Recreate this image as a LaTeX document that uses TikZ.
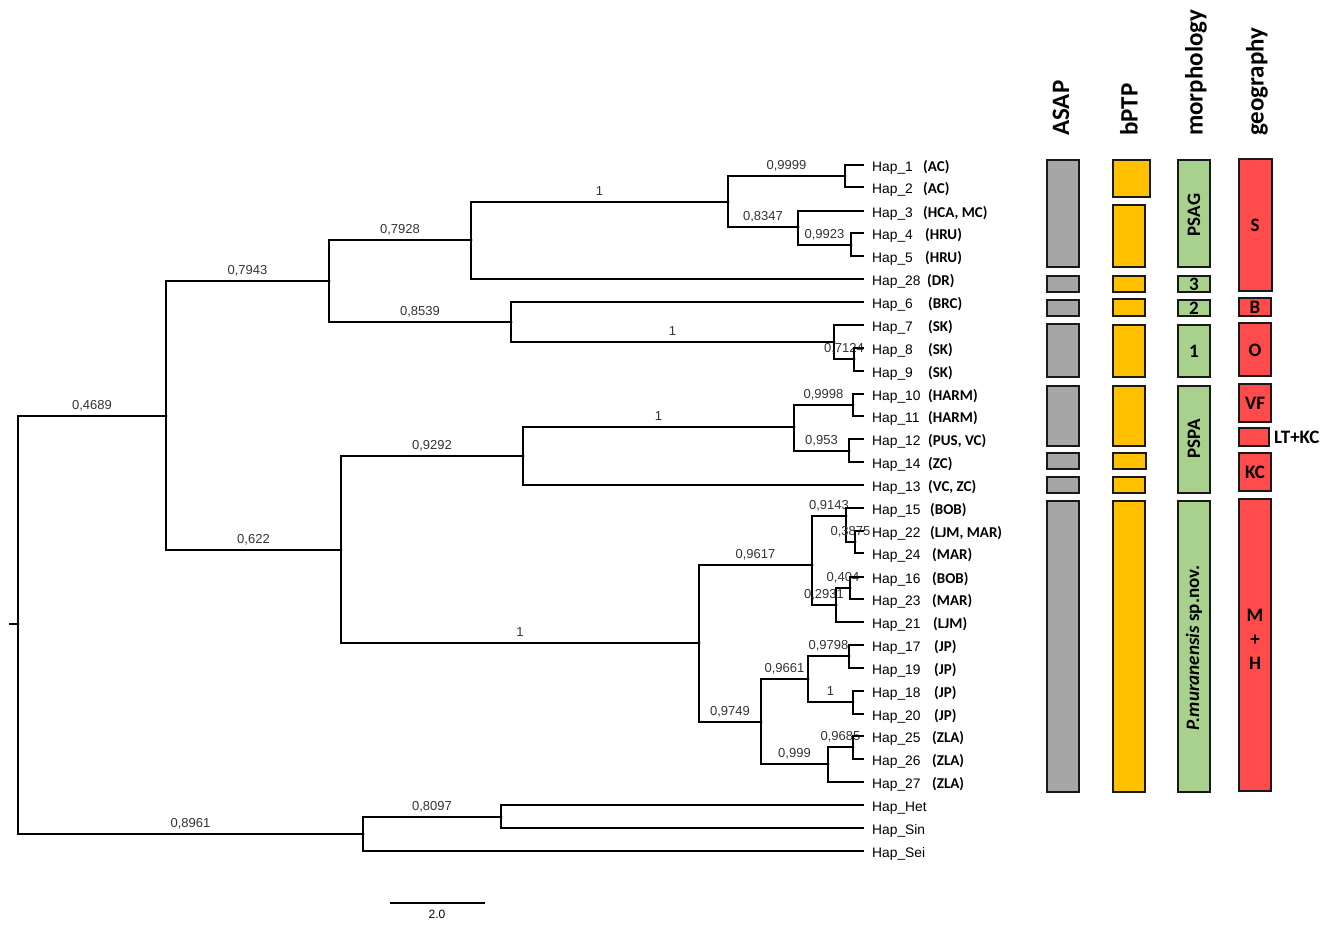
\documentclass[tikz,border=0pt]{standalone}
\usepackage{fontspec}
\setmainfont{Carlito}
\newfontfamily\valfont{Liberation Sans}
\definecolor{asapgray}{HTML}{A6A6A6}
\definecolor{ptpyellow}{HTML}{FFC000}
\definecolor{morphgreen}{HTML}{A9D18E}
\definecolor{geored}{HTML}{FF4B4B}
\tikzset{
  branch/.style={line width=1.4pt, black},
  val/.style={pos=0.75, anchor=base, yshift=7pt, inner sep=0pt,
    font=\valfont\fontsize{13}{13}\selectfont, text=black!80},
  leaf/.style={anchor=west, inner ysep=0pt, inner xsep=8pt, text height=14pt,
    text depth=1.2pt, font=\valfont\fontsize{13.8}{13.8}\selectfont},
  sitecode/.style={leaf, inner xsep=0pt, font=\bfseries\fontsize{15}{15}\selectfont},
  header/.style={rotate=90, anchor=west, inner sep=0pt, font=\bfseries\fontsize{25}{25}\selectfont},
  barbox/.style={draw=black!90, line width=2.4pt},
  bartext/.style={inner sep=0pt, align=center, font=\bfseries\fontsize{19}{24}\selectfont},
}
\begin{document}
\begin{tikzpicture}[x=1pt, y=-1pt]
  \useasboundingbox (0,0) rectangle (1325,924);

  \coordinate (r0) at (9,624);
  \coordinate (r)  at (18,624);
  \coordinate (A)  at (166,416);
  \coordinate (B)  at (329,281);
  \coordinate (C)  at (471,240);
  \coordinate (E)  at (728,202);
  \coordinate (F)  at (845,176);
  \coordinate (G)  at (798,227);
  \coordinate (H)  at (851,245);
  \coordinate (D)  at (511,322);
  \coordinate (I)  at (834,342);
  \coordinate (J)  at (854,359);
  \coordinate (K)  at (341,550);
  \coordinate (L)  at (523,456);
  \coordinate (M)  at (794,427);
  \coordinate (N)  at (853,405);
  \coordinate (O)  at (849,451);
  \coordinate (P)  at (699,643);
  \coordinate (Q)  at (812,565);
  \coordinate (R)  at (846,516);
  \coordinate (T)  at (855,542);
  \coordinate (S)  at (836,605);
  \coordinate (U)  at (850,588);
  \coordinate (V)  at (761,722);
  \coordinate (W)  at (808,679);
  \coordinate (X)  at (849,656);
  \coordinate (Y)  at (853,702);
  \coordinate (Z)  at (828,764);
  \coordinate (AA) at (853,747);
  \coordinate (BB) at (363,834);
  \coordinate (CC) at (501,817);

  \foreach \n/\y/\c/\cx in {1/165/AC/923, 2/187/AC/923, 3/211/{HCA, MC}/923,
      4/233/HRU/925, 5/256/HRU/925, 28/279/DR/927, 6/302/BRC/928, 7/325/SK/928,
      8/348/SK/928, 9/371/SK/928, 10/394/HARM/928, 11/416/HARM/928,
      12/439/{PUS, VC}/928, 14/462/ZC/928, 13/485/{VC, ZC}/928, 15/508/BOB/930,
      22/531/{LJM, MAR}/930, 24/553/MAR/932, 16/577/BOB/932, 23/599/MAR/932,
      21/622/LJM/933, 17/645/JP/934, 19/668/JP/934, 18/691/JP/934, 20/714/JP/934,
      25/736/ZLA/932, 26/759/ZLA/932, 27/782/ZLA/932} {
    \node[leaf] (h\n) at (864,\y) {Hap\_\n};
    \node[sitecode] (c\n) at (\cx,\y) {(\c)};
  }
  \node[leaf] (het) at (864,805) {Hap\_Het};
  \node[leaf] (sin) at (864,828) {Hap\_Sin};
  \node[leaf] (sei) at (864,851) {Hap\_Sei};

  \draw[branch] (r0) -- (r);
  \foreach \p/\c/\v in {r/A/{0,4689}, A/B/{0,7943}, B/C/{0,7928}, C/E/1,
      E/F/{0,9999}, E/G/{0,8347}, G/H/{0,9923}, B/D/{0,8539}, D/I/1,
      I/J/{0,7124}, A/K/{0,622}, K/L/{0,9292}, L/M/1, M/N/{0,9998},
      M/O/{0,953}, K/P/1, P/Q/{0,9617}, Q/R/{0,9143}, R/T/{0,3875},
      Q/S/{0,2931}, S/U/{0,404}, P/V/{0,9749}, V/W/{0,9661}, W/X/{0,9798},
      W/Y/1, V/Z/{0,999}, Z/AA/{0,9685}, r/BB/{0,8961}, BB/CC/{0,8097}}
    \draw[branch] (\p) |- node[val] {\v} (\c);
  \foreach \p/\c in {F/h1, F/h2, G/h3, H/h4, H/h5, C/h28, D/h6, I/h7, J/h8,
      J/h9, N/h10, N/h11, O/h12, O/h14, L/h13, R/h15, T/h22, T/h24, U/h16,
      U/h23, S/h21, X/h17, X/h19, Y/h18, Y/h20, AA/h25, AA/h26, Z/h27,
      CC/het, CC/sin, BB/sei}
    \draw[branch] (\p) |- (\c);
  \foreach \n in {r,A,B,C,E,F,G,H,D,I,J,K,L,M,N,O,P,Q,R,T,S,U,V,W,X,Y,Z,AA,BB,CC}
    \fill (\n) circle (1.6);

  \coordinate (sbl) at (390,903);
  \coordinate (sbr) at (485,903);
  \draw[line width=2pt] (sbl) -- (sbr);
  \node[inner sep=0pt, font=\valfont\fontsize{12}{12}\selectfont] (sblab) at (437,914) {2.0};

  \node[header] (hasap)  at (1061,136) {ASAP};
  \node[header] (hbptp)  at (1129,136) {bPTP};
  \node[header] (hmorph) at (1196,136) {morphology};
  \node[header] (hgeo)   at (1257,136) {geography};

  \foreach \ya/\yb in {160/267, 276/292, 300/316, 324/377, 386/446, 453/469,
      477/493, 501/792}
    \draw[barbox, fill=asapgray] (1047,\ya) rectangle (1079,\yb);
  \foreach \xb/\ya/\yb in {1150/160/197, 1145/205/267, 1145/276/292,
      1145/299/316, 1145/325/377, 1145/386/446, 1146/453/469, 1145/477/493,
      1145/501/792}
    \draw[barbox, fill=ptpyellow] (1113,\ya) rectangle (\xb,\yb);
  \foreach \ya/\yb in {160/267, 276/292, 300/316, 325/377, 386/493, 501/792}
    \draw[barbox, fill=morphgreen] (1178,\ya) rectangle (1210,\yb);
  \foreach \ya/\yb/\xb in {159/291/1272, 298/316/1271, 323/376/1271,
      384/422/1271, 428/446/1269, 453/491/1271, 499/791/1271}
    \draw[barbox, fill=geored] (1239,\ya) rectangle (\xb,\yb);

  \node[bartext, rotate=90] (psag) at (1194,215) {PSAG};
  \node[bartext] (m3) at (1194,284) {3};
  \node[bartext] (m2) at (1194,308) {2};
  \node[bartext] (m1) at (1194,351) {1};
  \node[bartext, rotate=90] (pspa) at (1194,439) {PSPA};
  \node[bartext, rotate=90] (muran) at (1194,648) {\textit{P.muranensis} sp.nov.};

  \node[bartext] (gs)  at (1255,225) {S};
  \node[bartext] (gb)  at (1255,307) {B};
  \node[bartext] (go)  at (1255,350) {O};
  \node[bartext] (gvf) at (1255,403) {VF};
  \node[bartext, anchor=west] (gltkc) at (1274,437) {LT+KC};
  \node[bartext] (gkc) at (1255,472) {KC};
  \node[bartext] (gmh) at (1255,639) {M\\+\\H};
\end{tikzpicture}
\end{document}
